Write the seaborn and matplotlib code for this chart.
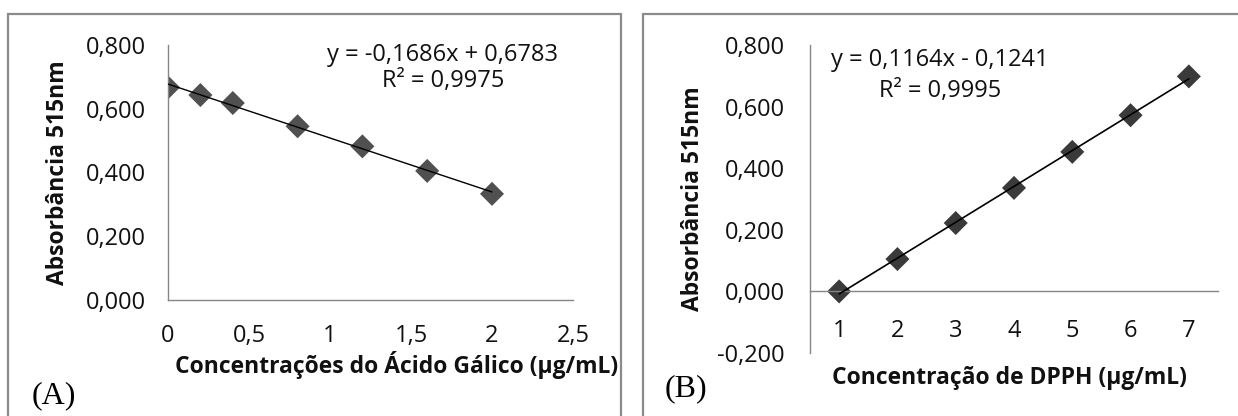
# calibration curves - gallic acid (A) and DPPH (B)

import seaborn as sns
import matplotlib.pyplot as plt
import pandas as pd
import numpy as np
from matplotlib.patches import Rectangle

# data
gallic_conc = [0, 0.2, 0.4, 0.8, 1.2, 1.6, 2.0]
gallic_abs = [0.667, 0.643, 0.618, 0.545, 0.482, 0.405, 0.333]
dpph_conc = [1, 2, 3, 4, 5, 6, 7]
dpph_abs = [0.000, 0.105, 0.222, 0.336, 0.453, 0.572, 0.698]

a_xticks = [0, 0.5, 1, 1.5, 2, 2.5]
a_xticklabels = ['0', '0,5', '1', '1,5', '2', '2,5']
a_yticks = [0, 0.2, 0.4, 0.6, 0.8]
a_yticklabels = ['0,000', '0,200', '0,400', '0,600', '0,800']
b_yticks = [-0.2, 0, 0.2, 0.4, 0.6, 0.8]
b_yticklabels = ['-0,200', '0,000', '0,200', '0,400', '0,600', '0,800']
b_xlabels = ['1', '2', '3', '4', '5', '6', '7']

a_eq = ['y = -0,1686x + 0,6783', 'R² = 0,9975']
b_eq = ['y = 0,1164x - 0,1241', 'R² = 0,9995']

ylab = 'Absorbância 515nm'
a_xlab = 'Concentrações do Ácido Gálico (µg/mL)'
b_xlab = 'Concentração de DPPH (µg/mL)'

df_a = pd.DataFrame({'x': gallic_conc, 'y': gallic_abs})
df_b = pd.DataFrame({'x': dpph_conc, 'y': dpph_abs})

sns.set_style('white')
plt.rcParams['font.family'] = ['Open Sans', 'DejaVu Sans']

W, H = 1238, 416
fig = plt.figure(figsize=(W / 100, H / 100), dpi=100)

axis_col = '#868686'
txt_col = '#111111'
fs = 17        # tick labels / equations
fs_lab = 16.5  # axis titles


def px(x0, y0, x1, y1):
    # pixel box (top-left origin) -> figure fraction rect
    return [x0 / W, 1 - y1 / H, (x1 - x0) / W, (y1 - y0) / H]


# outer frames
for x0, x1 in [(8, 621), (643, 1250)]:
    fig.add_artist(Rectangle((x0 / W, -0.1), (x1 - x0) / W, 1.1 - 14 / H,
                             transform=fig.transFigure, fill=False,
                             edgecolor='#8a8a8a', linewidth=1.6))

ax_a = fig.add_axes(px(168, 45, 573, 300))
ax_b = fig.add_axes(px(810, 45, 1218, 353))


def style(ax):
    for s in ['top', 'right']:
        ax.spines[s].set_visible(False)
    for s in ['left', 'bottom']:
        ax.spines[s].set_color(axis_col)
        ax.spines[s].set_linewidth(1.0)
    ax.set_facecolor('none')
    ax.tick_params(which='both', color=axis_col, labelcolor=txt_col,
                   labelsize=fs, length=5, width=1.0, direction='out')


# panel A
sns.scatterplot(data=df_a, x='x', y='y', ax=ax_a, marker='D', s=150,
                color='#505050', edgecolor='none', zorder=2)
sns.regplot(data=df_a, x='x', y='y', ax=ax_a, scatter=False, ci=None,
            line_kws={'color': 'black', 'linewidth': 1.0, 'zorder': 3})
ax_a.set_xlim(0, 2.5)
ax_a.set_ylim(0, 0.8)
style(ax_a)
ax_a.set_xticks(a_xticks, a_xticklabels)
ax_a.set_yticks(a_yticks, a_yticklabels)
ax_a.tick_params(axis='x', pad=12)
ax_a.tick_params(axis='y', pad=11)
ax_a.set_xlabel(a_xlab, fontsize=fs_lab, fontweight='bold', color=txt_col)
ax_a.set_ylabel(ylab, fontsize=fs_lab, fontweight='bold', color=txt_col)
ax_a.xaxis.label.set_va('center')
ax_a.yaxis.label.set_va('center')
ax_a.xaxis.set_label_coords(0.565, -0.255)
ax_a.yaxis.set_label_coords(-0.272, 0.5)
ax_a.text(0.679, 0.961, a_eq[0], transform=ax_a.transAxes, ha='center',
          va='center', fontsize=fs, color=txt_col)
ax_a.text(0.679, 0.859, a_eq[1], transform=ax_a.transAxes, ha='center',
          va='center', fontsize=fs, color=txt_col)

# panel B
sns.scatterplot(data=df_b, x='x', y='y', ax=ax_b, marker='D', s=150,
                color='#3a3a3a', edgecolor='none', zorder=2)
sns.regplot(data=df_b, x='x', y='y', ax=ax_b, scatter=False, ci=None,
            line_kws={'color': 'black', 'linewidth': 1.2, 'zorder': 3})
ax_b.set_xlim(0.5, 7.5)
ax_b.set_ylim(-0.2, 0.8)
style(ax_b)
ax_b.spines['bottom'].set_position(('data', 0))
ax_b.set_xticks(np.arange(0.5, 8, 1), [''] * 8)
ax_b.set_xticks(dpph_conc, b_xlabels, minor=True)
ax_b.tick_params(axis='x', which='minor', length=0, pad=20)
ax_b.set_yticks(b_yticks, b_yticklabels)
ax_b.tick_params(axis='y', pad=13)
ax_b.set_xlabel(b_xlab, fontsize=fs_lab, fontweight='bold', color=txt_col)
ax_b.set_ylabel(ylab, fontsize=fs_lab, fontweight='bold', color=txt_col)
ax_b.xaxis.label.set_va('center')
ax_b.yaxis.label.set_va('center')
ax_b.xaxis.set_label_coords(0.49, -0.08)
ax_b.yaxis.set_label_coords(-0.287, 0.5)
ax_b.text(0.319, 0.951, b_eq[0], transform=ax_b.transAxes, ha='center',
          va='center', fontsize=fs, color=txt_col)
ax_b.text(0.319, 0.851, b_eq[1], transform=ax_b.transAxes, ha='center',
          va='center', fontsize=fs, color=txt_col)

# panel letters
fig.text(32 / W, 1 - 396 / H, '(A)', ha='left', va='center', fontsize=23,
         family='Liberation Serif', color='black')
fig.text(665 / W, 1 - 389 / H, '(B)', ha='left', va='center', fontsize=23,
         family='Liberation Serif', color='black')

plt.savefig('out.png', dpi=100)
